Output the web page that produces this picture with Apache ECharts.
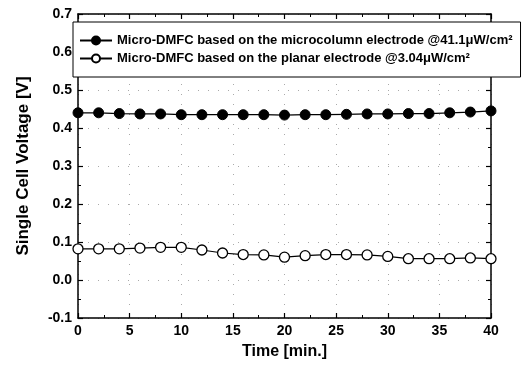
<!DOCTYPE html>
<html>
<head>
<meta charset="utf-8">
<script src="https://cdn.jsdelivr.net/npm/echarts@6/dist/echarts.min.js"></script>
<style>
  html, body { margin: 0; padding: 0; background: #fff; }
  #chart { width: 526px; height: 368px; }
</style>
</head>
<body>
<div id="chart"></div>
<script>
/* global echarts */
const times = [0, 2, 4, 6, 8, 10, 12, 14, 16, 18, 20, 22, 24, 26, 28, 30, 32, 34, 36, 38, 40];
const columnVoltage = [0.440, 0.440, 0.438, 0.437, 0.437, 0.435, 0.435, 0.435, 0.435, 0.435, 0.434,
  0.435, 0.435, 0.436, 0.437, 0.437, 0.438, 0.438, 0.440, 0.442, 0.445];
const planarVoltage = [0.082, 0.082, 0.082, 0.084, 0.086, 0.086, 0.079, 0.071, 0.067, 0.066, 0.060,
  0.064, 0.067, 0.067, 0.066, 0.062, 0.056, 0.056, 0.056, 0.058, 0.056];
const seriesNames = [
  'Micro-DMFC based on the microcolumn electrode @41.1\u03bcW/cm\u00b2',
  'Micro-DMFC based on the planar electrode @3.04\u03bcW/cm\u00b2',
];

const font = 'Arial, "Liberation Sans", sans-serif';
const chart = echarts.init(document.getElementById('chart'));

const pairs = (vals) => times.map((t, i) => [t, vals[i]]);

const axisCommon = {
  axisLine: { show: true, onZero: false, lineStyle: { color: '#000', width: 1.5 } },
  axisTick: { show: true, inside: true, length: 5, lineStyle: { color: '#000', width: 1.2 } },
  minorTick: { show: true, splitNumber: 2, length: 3, lineStyle: { color: '#000' } },
};

chart.setOption({
  animation: false,
  grid: { left: 78, right: 35, top: 14, bottom: 50 },
  legend: {
    orient: 'vertical',
    left: 73,
    top: 22,
    padding: [12, 8, 12, 6],
    itemGap: 5,
    itemWidth: 32,
    itemHeight: 10,
    backgroundColor: '#fff',
    borderColor: '#000',
    borderWidth: 1,
    textStyle: { fontFamily: font, fontSize: 13, fontWeight: 'bold', color: '#000' },
    data: seriesNames,
  },
  xAxis: [
    Object.assign({}, axisCommon, {
      type: 'value', min: 0, max: 40, interval: 5,
      name: 'Time [min.]', nameLocation: 'middle', nameGap: 26,
      nameTextStyle: { fontFamily: font, fontSize: 16, fontWeight: 'bold', color: '#000' },
      axisLabel: { fontFamily: font, fontSize: 14, fontWeight: 'bold', color: '#000', margin: 6 },
      splitLine: { show: true, lineStyle: { color: '#aaa', type: [1, 9], width: 1 } },
    }),
    Object.assign({}, axisCommon, {
      type: 'value', min: 0, max: 40, interval: 5, position: 'top',
      axisLabel: { show: false }, splitLine: { show: false },
    }),
  ],
  yAxis: [
    Object.assign({}, axisCommon, {
      type: 'value', min: -0.1, max: 0.7, interval: 0.1,
      name: 'Single Cell Voltage [V]', nameLocation: 'middle', nameGap: 46, nameRotate: 90,
      nameTextStyle: { fontFamily: font, fontSize: 17, fontWeight: 'bold', color: '#000' },
      axisLabel: {
        fontFamily: font, fontSize: 14, fontWeight: 'bold', color: '#000', margin: 6,
        formatter: (v) => v.toFixed(1),
      },
      splitLine: { show: true, lineStyle: { color: '#aaa', type: [1, 9], width: 1 } },
    }),
    Object.assign({}, axisCommon, {
      type: 'value', min: -0.1, max: 0.7, interval: 0.1, position: 'right',
      axisLabel: { show: false }, splitLine: { show: false },
    }),
  ],
  series: [
    {
      name: seriesNames[0],
      type: 'line',
      data: pairs(columnVoltage),
      symbol: 'circle',
      symbolSize: 10,
      lineStyle: { color: '#000', width: 1.2 },
      itemStyle: { color: '#000', borderColor: '#000', borderWidth: 1 },
    },
    {
      name: seriesNames[1],
      type: 'line',
      data: pairs(planarVoltage),
      symbol: 'circle',
      symbolSize: 10,
      lineStyle: { color: '#000', width: 1.2 },
      itemStyle: { color: '#fff', borderColor: '#000', borderWidth: 1.3 },
    },
  ],
});
</script>
</body>
</html>
